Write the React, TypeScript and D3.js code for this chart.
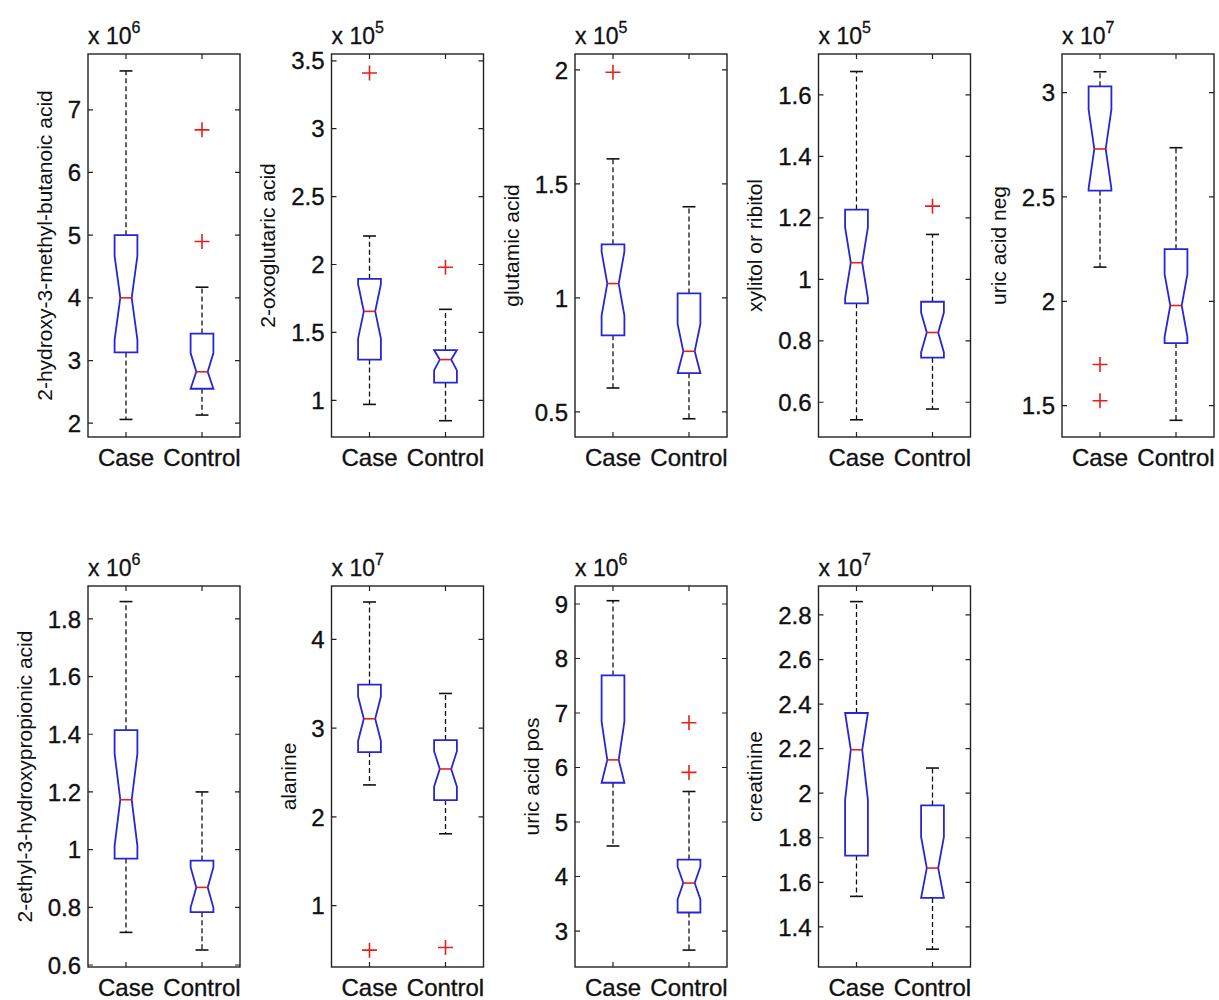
import React, { useEffect, useRef } from "react";
import * as d3 from "d3";

const groups = ["Case", "Control"];
const metabolites = [
  "2-hydroxy-3-methyl-butanoic acid",
  "2-oxoglutaric acid",
  "glutamic acid",
  "xylitol or ribitol",
  "uric acid neg",
  "2-ethyl-3-hydroxypropionic acid",
  "alanine",
  "uric acid pos",
  "creatinine",
];
const exponents = [6, 5, 5, 5, 7, 6, 7, 6, 7];

// axis limits and tick labels, per panel (in units of 10^exponent)
const yDomains = [
  [1.78, 7.89], [0.73, 3.55], [0.39, 2.07], [0.487, 1.733], [1.35, 3.185],
  [0.593, 1.914], [0.31, 4.6], [2.34, 9.33], [1.22, 2.93],
];
const yTicks = [
  [2, 3, 4, 5, 6, 7],
  [1, 1.5, 2, 2.5, 3, 3.5],
  [0.5, 1, 1.5, 2],
  [0.6, 0.8, 1, 1.2, 1.4, 1.6],
  [1.5, 2, 2.5, 3],
  [0.6, 0.8, 1, 1.2, 1.4, 1.6, 1.8],
  [1, 2, 3, 4],
  [3, 4, 5, 6, 7, 8, 9],
  [1.4, 1.6, 1.8, 2, 2.2, 2.4, 2.6, 2.8],
];

// [lower whisker, Q1, median, Q3, upper whisker]
const caseStats = [
  [2.06, 3.13, 4.0, 5.0, 7.62],
  [0.97, 1.3, 1.655, 1.895, 2.21],
  [0.605, 0.836, 1.063, 1.235, 1.61],
  [0.543, 0.922, 1.054, 1.227, 1.676],
  [2.164, 2.53, 2.73, 3.03, 3.1],
  [0.713, 0.969, 1.173, 1.414, 1.86],
  [2.36, 2.73, 3.105, 3.49, 4.42],
  [4.56, 5.72, 6.14, 7.69, 9.06],
  [1.537, 1.72, 2.195, 2.36, 2.86],
];
const controlStats = [
  [2.13, 2.55, 2.82, 3.43, 4.17],
  [0.85, 1.13, 1.3, 1.37, 1.67],
  [0.47, 0.67, 0.766, 1.02, 1.4],
  [0.578, 0.745, 0.827, 0.927, 1.146],
  [1.43, 1.8, 1.98, 2.25, 2.736],
  [0.652, 0.783, 0.869, 0.962, 1.2],
  [1.81, 2.19, 2.54, 2.865, 3.39],
  [2.65, 3.34, 3.88, 4.31, 5.56],
  [1.3, 1.53, 1.664, 1.945, 2.113],
];
// half-height of the notch around the median
const caseNotch = [0.67, 0.2, 0.14, 0.115, 0.19, 0.16, 0.25, 0.7, 0.225];
const controlNotch = [0.3, 0.08, 0.12, 0.065, 0.15, 0.07, 0.2, 0.3, 0.14];
const caseOutliers = [[], [3.41], [1.99], [], [1.697, 1.524], [], [0.5], [], []];
const controlOutliers = [[6.68, 4.9], [1.98], [], [1.238], [], [], [0.53], [6.82, 5.91], []];

const W = 1219;
const H = 1000;
const FONT = "'Liberation Sans', Arial, Helvetica, sans-serif";
const BLUE = "#2626d4";
const RED = "#e8201a";

export default function App() {
  const svgRef = useRef<SVGSVGElement | null>(null);

  useEffect(() => {
    const svg = d3.select(svgRef.current);
    svg.selectAll("*").remove();
    svg.append("rect").attr("width", W).attr("height", H).attr("fill", "#fff");

    const panelW = 152;
    const rows = [
      { top: 54, bottom: 437 },
      { top: 586, bottom: 967 },
    ];

    metabolites.forEach((name, p) => {
      const row = p < 5 ? 0 : 1;
      const col = p < 5 ? p : p - 5;
      const left = 88 + col * 243.5;
      const { top, bottom } = rows[row];

      const x = d3.scaleLinear().domain([0.5, 2.5]).range([left, left + panelW]);
      const y = d3.scaleLinear().domain(yDomains[p]).range([bottom, top]);
      const g = svg.append("g");

      const boxHalf = x(1.15) - x(1);
      const capHalf = x(1.085) - x(1);
      const statsList = [caseStats[p], controlStats[p]];
      const notchList = [caseNotch[p], controlNotch[p]];
      const outList = [caseOutliers[p], controlOutliers[p]];

      statsList.forEach((s, i) => {
        const cx = x(i + 1);
        const [wLo, q1, med, q3, wHi] = s;
        const nHi = Math.min(med + notchList[i], q3);
        const nLo = Math.max(med - notchList[i], q1);

        // whiskers
        g.append("line")
          .attr("x1", cx).attr("x2", cx)
          .attr("y1", y(q3)).attr("y2", y(wHi))
          .attr("stroke", "#111").attr("stroke-width", 1.3)
          .attr("stroke-dasharray", "5,3");
        g.append("line")
          .attr("x1", cx).attr("x2", cx)
          .attr("y1", y(q1)).attr("y2", y(wLo))
          .attr("stroke", "#111").attr("stroke-width", 1.3)
          .attr("stroke-dasharray", "5,3");
        [wLo, wHi].forEach((v) => {
          g.append("line")
            .attr("x1", cx - capHalf).attr("x2", cx + capHalf)
            .attr("y1", y(v)).attr("y2", y(v))
            .attr("stroke", "#111").attr("stroke-width", 1.6);
        });

        // notched box
        const inner = boxHalf / 2;
        const pts: [number, number][] = [
          [cx - boxHalf, y(q3)],
          [cx + boxHalf, y(q3)],
          [cx + boxHalf, y(nHi)],
          [cx + inner, y(med)],
          [cx + boxHalf, y(nLo)],
          [cx + boxHalf, y(q1)],
          [cx - boxHalf, y(q1)],
          [cx - boxHalf, y(nLo)],
          [cx - inner, y(med)],
          [cx - boxHalf, y(nHi)],
        ];
        g.append("path")
          .attr("d", d3.line()(pts) + "Z")
          .attr("fill", "none")
          .attr("stroke", BLUE)
          .attr("stroke-width", 1.8)
          .attr("stroke-linejoin", "miter");

        g.append("line")
          .attr("x1", cx - inner).attr("x2", cx + inner)
          .attr("y1", y(med)).attr("y2", y(med))
          .attr("stroke", RED).attr("stroke-width", 1.6);

        outList[i].forEach((v) => {
          const oy = y(v);
          g.append("path")
            .attr("d", `M${cx - 7.5},${oy}H${cx + 7.5}M${cx},${oy - 7.5}V${oy + 7.5}`)
            .attr("stroke", RED).attr("stroke-width", 1.6).attr("fill", "none");
        });
      });

      // axes frame with inward ticks
      g.append("rect")
        .attr("x", left).attr("y", top)
        .attr("width", panelW).attr("height", bottom - top)
        .attr("fill", "none").attr("stroke", "#222").attr("stroke-width", 1.4);

      const tickLen = 5;
      const labelG = g.append("g")
        .attr("font-family", FONT).attr("font-size", 24).attr("fill", "#111")
        .attr("stroke", "#111").attr("stroke-width", 0.35);
      let maxW = 0;
      yTicks[p].forEach((t) => {
        const ty = y(t);
        g.append("path")
          .attr("d", `M${left},${ty}h${tickLen}M${left + panelW},${ty}h${-tickLen}`)
          .attr("stroke", "#222").attr("stroke-width", 1.2);
        const txt = labelG.append("text")
          .attr("x", left - 7).attr("y", ty)
          .attr("dy", "0.36em")
          .attr("text-anchor", "end")
          .text(String(t));
        const bw = (txt.node() as SVGTextElement).getComputedTextLength();
        if (bw > maxW) maxW = bw;
      });
      [1, 2].forEach((v) => {
        g.append("path")
          .attr("d", `M${x(v)},${bottom}v${-tickLen}M${x(v)},${top}v${tickLen}`)
          .attr("stroke", "#222").attr("stroke-width", 1.2);
      });

      // category labels
      groups.forEach((gr, i) => {
        labelG.append("text")
          .attr("x", x(i + 1)).attr("y", bottom + 29)
          .attr("text-anchor", "middle")
          .text(gr);
      });

      // exponent label
      const ex = g.append("text")
        .attr("x", left).attr("y", top - 10)
        .attr("font-family", FONT).attr("font-size", 23).attr("fill", "#111")
        .attr("stroke", "#111").attr("stroke-width", 0.3);
      ex.append("tspan").text("x 10");
      ex.append("tspan").attr("font-size", 16).attr("dy", -11).text(String(exponents[p]));

      // y label
      const lx = left - 30 - maxW;
      const ly = (top + bottom) / 2;
      g.append("text")
        .attr("transform", `translate(${lx},${ly}) rotate(-90)`)
        .attr("text-anchor", "middle")
        .attr("dy", "0.35em")
        .attr("font-family", FONT).attr("font-size", 21).attr("fill", "#111")
        .text(name);
    });
  }, []);

  return (
    <div style={{ position: "absolute", left: 0, top: 0 }}>
      <svg ref={svgRef} width={W} height={H} style={{ display: "block" }}></svg>
    </div>
  );
}
